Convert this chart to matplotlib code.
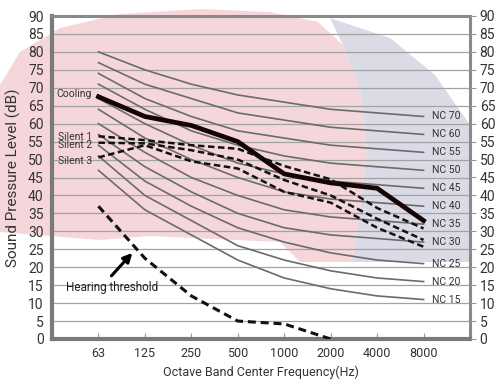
import matplotlib
matplotlib.use("Agg")
import matplotlib.pyplot as plt
from matplotlib.patches import Polygon
from matplotlib.transforms import IdentityTransform

plt.rcParams["font.family"] = ["Roboto", "DejaVu Sans"]

# octave band centre frequencies (categorical x axis)
freqs = ["63", "125", "250", "500", "1000", "2000", "4000", "8000"]

# NC reference curves, top to bottom, as labelled on the chart
nc_labels = ["NC 70", "NC 60", "NC 55", "NC 50", "NC 45", "NC 40",
             "NC 35", "NC 30", "NC 25", "NC 20", "NC 15"]
nc_curves = [
    [80, 75, 71, 68, 66, 64, 63, 62],
    [77, 71, 67, 63, 61, 59, 58, 57],
    [74, 67, 62, 58, 56, 54, 53, 52],
    [71, 64, 58, 54, 51, 49, 48, 47],
    [67, 60, 54, 49, 46, 44, 43, 42],
    [64, 56, 50, 45, 41, 39, 38, 37],
    [60, 52, 45, 40, 36, 34, 33, 32],
    [57, 48, 41, 35, 31, 29, 28, 27],
    [54, 44, 37, 31, 27, 24, 22, 21],
    [51, 40, 33, 26, 22, 19, 17, 16],
    [47, 36, 29, 22, 17, 14, 12, 11],
]

cooling = [67.5, 62, 59.5, 55, 46, 43.5, 42, 33]
silent_1 = [56.5, 55.4, 54, 53, 48.2, 44.5, 36.5, 30.8]
silent_2 = [54.7, 54.5, 52.6, 50, 44.3, 40, 33.5, 27.6]
silent_3 = [50.6, 54, 49.5, 47.5, 41, 38, 31, 25.7]
hearing_threshold = [37, 22.5, 12, 5, 4.2, 0]

W, H = 496, 386
fig = plt.figure(figsize=(W / 100, H / 100), dpi=100)
fig.patch.set_facecolor("white")


def backdrop(points, color):
    # outline given in pixels from the top-left corner
    pts = [(px, H - py) for px, py in points]
    fig.patches.append(Polygon(pts, closed=True, transform=IdentityTransform(),
                               facecolor=color, edgecolor="none", zorder=-2))


# faint watermark artwork behind the chart
backdrop([(0, 232), (0, 85), (20, 52), (60, 28), (120, 14), (200, 9),
          (270, 12), (318, 22), (343, 45), (360, 90), (367, 150),
          (360, 210), (352, 262), (300, 262), (280, 242), (150, 236),
          (100, 240)], "#f5d7db")
backdrop([(330, 18), (390, 38), (435, 75), (470, 125), (470, 262),
          (352, 262), (360, 210), (367, 150), (360, 90), (343, 45)],
         "#dadbe6")

ax = fig.add_axes([52 / W, 1 - 339 / H, (470 - 52) / W, (339 - 16) / H])
ax.patch.set_alpha(0)

x = list(range(len(freqs)))
nc_color = "#6b6b6b"
for label, vals in zip(nc_labels, nc_curves):
    ax.plot(x, vals, color=nc_color, lw=1.2, zorder=3)
    ax.text(7.48, vals[-1], label, ha="center", va="center", fontsize=7.5,
            color="#333333", zorder=5)

ax.plot(x, cooling, color="#140404", lw=3.4, zorder=6, solid_joinstyle="round")
dash = dict(color="#111111", lw=1.8, dashes=(2.6, 1.4), zorder=6)
ax.plot(x, silent_1, **dash)
ax.plot(x, silent_2, **dash)
ax.plot(x, silent_3, **dash)
ax.plot(x[:len(hearing_threshold)], hearing_threshold, color="#111111",
        lw=2.2, dashes=(2.6, 1.6), zorder=6)

lab = dict(ha="right", va="center", fontsize=7.5, color="#333333", zorder=7)
ax.text(-0.14, 68.3, "Cooling", **lab)
ax.text(-0.14, 56.4, "Silent 1", **lab)
ax.text(-0.14, 54.0, "Silent 2", **lab)
ax.text(-0.14, 49.6, "Silent 3", **lab)

ax.text(0.29, 14.3, "Hearing threshold", ha="center", va="center",
        fontsize=8.5, color="#222222", zorder=7)
ax.annotate("", xy=(0.73, 24.0), xytext=(0.28, 17.6),
            arrowprops=dict(arrowstyle="-|>", color="black", lw=2.2,
                            mutation_scale=13, shrinkA=0, shrinkB=0),
            zorder=7)

ax.set_xlim(-1, 8)
ax.set_ylim(0, 90)
ax.set_xticks(x)
ax.set_xticklabels(freqs)
ax.set_yticks(range(0, 91, 5))
ax.yaxis.grid(True, color="#a3a3a3", lw=0.9)
ax.set_axisbelow(True)

for side in ("left", "bottom"):
    ax.spines[side].set_color("#7a7a7a")
    ax.spines[side].set_linewidth(3)
for side in ("top", "right"):
    ax.spines[side].set_color("#8a8a8a")
    ax.spines[side].set_linewidth(2.2)

ax.tick_params(axis="x", direction="in", length=4, color="#999999",
               labelsize=9, labelcolor="#333333", pad=6)
ax.tick_params(axis="y", direction="out", length=0, labelsize=10,
               labelcolor="#333333", pad=6)

ax2 = ax.twinx()
ax2.set_ylim(0, 90)
ax2.set_yticks(range(0, 91, 5))
ax2.tick_params(axis="y", direction="out", length=4, color="#999999",
                labelsize=10, labelcolor="#333333", pad=3)
for s in ax2.spines.values():
    s.set_visible(False)

ax.set_ylabel("Sound Pressure Level (dB)", fontsize=11, color="#333333",
              labelpad=5)
ax.set_xlabel("Octave Band Center Frequency(Hz)", fontsize=9, color="#333333",
              labelpad=4)

fig.savefig("out.png", dpi=100)
